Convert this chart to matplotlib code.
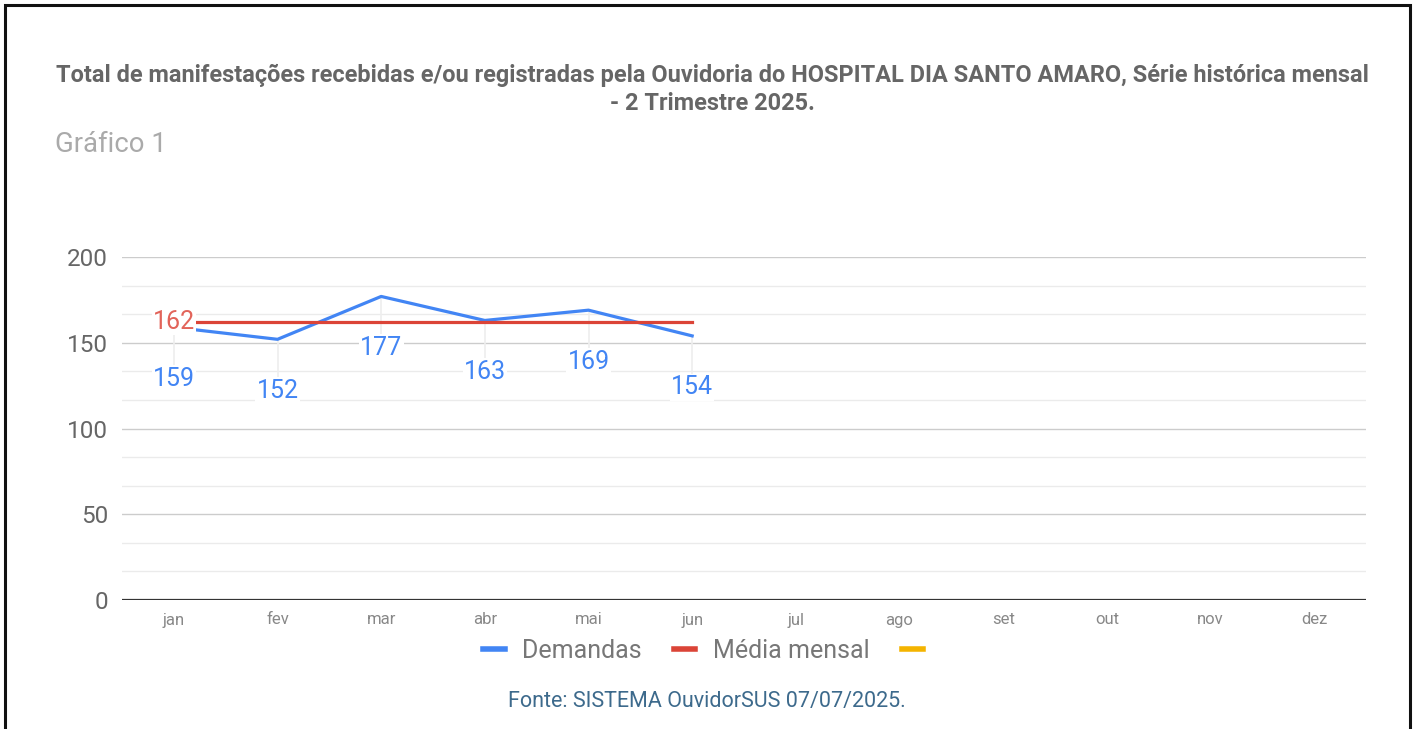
import matplotlib.pyplot as plt
from matplotlib.lines import Line2D
from matplotlib.patches import Rectangle
import numpy as np

months = ['jan', 'fev', 'mar', 'abr', 'mai', 'jun', 'jul', 'ago', 'set', 'out', 'nov', 'dez']
demandas = [159, 152, 177, 163, 169, 154]
media_mensal = [162, 162, 162, 162, 162, 162]
y_ticks = [0, 50, 100, 150, 200]

W, H = 1417, 729
BLUE = '#4285F4'
RED = '#DB4437'
YELLOW = '#F4B400'

plt.rcParams['font.family'] = ['Roboto', 'DejaVu Sans']

fig = plt.figure(figsize=(W / 100, H / 100), dpi=100)

# outer frame (open at the bottom, as in the cropped screenshot)
fig.patches.append(Rectangle((5 / W, -0.05), 1405 / W, (H - 5) / H + 0.05,
                             transform=fig.transFigure, fill=False,
                             edgecolor='#111111', linewidth=2.2))

ax = fig.add_axes([122 / W, (H - 600) / H, (1366 - 122) / W, (600 - 257) / H])
x = np.arange(len(months))
ax.set_xlim(-0.5, len(months) - 0.5)
ax.set_ylim(0, 200)

# gridlines: major every 50, two minor in between
for v in np.linspace(0, 200, 13)[1:]:
    major = abs(v % 50) < 1e-6 or abs(v % 50 - 50) < 1e-6
    ax.axhline(v, color='#cccccc' if major else '#ebebeb', linewidth=1.0, zorder=0)
ax.axhline(0, color='#333333', linewidth=1.6, zorder=1)

for s in ax.spines.values():
    s.set_visible(False)
ax.set_yticks(y_ticks)
ax.set_yticklabels([str(t) for t in y_ticks], fontsize=17.5, color='#666666')
ax.set_xticks(x)
ax.set_xticklabels(months, fontsize=12, color='#888888')
ax.tick_params(axis='both', length=0)
ax.tick_params(axis='y', pad=10)
ax.tick_params(axis='x', pad=9)

xd = x[:len(demandas)]
# faint stems under the points
ax.vlines(xd, np.array(demandas) - 22, demandas, color='#eeeeee', linewidth=1.2, zorder=1)

ax.plot(xd, demandas, color=BLUE, linewidth=2.3, zorder=3)
ax.plot(xd, media_mensal, color=RED, linewidth=2.3, zorder=3)

for xi, v in zip(xd, demandas):
    ax.annotate(str(v), (xi, v), xytext=(0, -37), textcoords='offset points',
                ha='center', va='center', fontsize=18, color=BLUE, zorder=4,
                bbox=dict(boxstyle='square,pad=0.05', fc='white', ec='none'))
ax.annotate(str(media_mensal[0]), (xd[0], media_mensal[0]), ha='center', va='center',
            fontsize=18, color='#E2645A', zorder=4,
            bbox=dict(boxstyle='square,pad=0.05', fc='white', ec='none'))

handles = [Line2D([], [], color=BLUE, linewidth=4),
           Line2D([], [], color=RED, linewidth=4),
           Line2D([], [], color=YELLOW, linewidth=4)]
fig.legend(handles, ['Demandas', 'Média mensal', ''], loc='center',
           bbox_to_anchor=(712 / W, 1 - 651 / H), ncol=3, frameon=False,
           fontsize=18, labelcolor='#777777', handlelength=0.85,
           handletextpad=0.7, columnspacing=1.3)

fig.text(712 / W, 1 - 75 / H,
         'Total de manifestações recebidas e/ou registradas pela Ouvidoria do HOSPITAL DIA SANTO AMARO, Série histórica mensal',
         ha='center', va='center', fontsize=16.9, fontweight='bold', color='#666666')
fig.text(712 / W, 1 - 103 / H, '- 2 Trimestre 2025.', ha='center', va='center',
         fontsize=16.9, fontweight='bold', color='#666666')
fig.text(55 / W, 1 - 145 / H, 'Gráfico 1', ha='left', va='center',
         fontsize=19.8, color='#aaaaaa')
fig.text(707 / W, 1 - 701 / H, 'Fonte: SISTEMA OuvidorSUS 07/07/2025.', ha='center',
         va='center', fontsize=15.5, color='#3d6a8c')

fig.savefig('out.png', dpi=100)
